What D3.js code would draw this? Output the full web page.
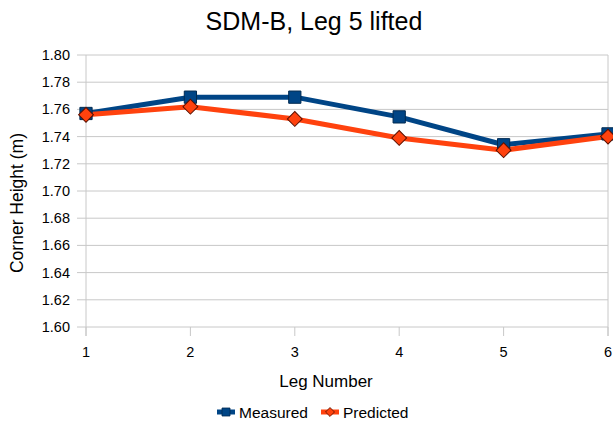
<!DOCTYPE html>
<html><head><meta charset="utf-8">
<script src="https://cdn.jsdelivr.net/npm/d3@7"></script>
<style>body{margin:0;background:#fff}text{font-family:"Liberation Sans",Arial,sans-serif;fill:#000}</style>
</head><body><svg id="c" width="613" height="424"></svg>
<script>
const legs = [1, 2, 3, 4, 5, 6];
const measured = [1.757, 1.769, 1.769, 1.7545, 1.734, 1.742];
const predicted = [1.756, 1.762, 1.753, 1.739, 1.730, 1.740];
const yTicks = [1.60, 1.62, 1.64, 1.66, 1.68, 1.70, 1.72, 1.74, 1.76, 1.78, 1.80];
const title = "SDM-B, Leg 5 lifted";
const xTitle = "Leg Number";
const yTitle = "Corner Height (m)";
const seriesNames = ["Measured", "Predicted"];

const svg = d3.select("#c");
const x = d3.scaleLinear().domain([1, 6]).range([86, 608]);
const y = d3.scaleLinear().domain([1.60, 1.80]).range([327, 55]);
const grid = "#c8c8c8";

svg.append("g").selectAll("line").data(yTicks).join("line")
  .attr("x1", 77).attr("x2", 608)
  .attr("y1", d => y(d)).attr("y2", d => y(d))
  .attr("stroke", grid).attr("stroke-width", 1);
svg.append("line").attr("x1", x(1)).attr("x2", x(1)).attr("y1", y(1.80)).attr("y2", 336).attr("stroke", grid);
svg.append("line").attr("x1", x(6)).attr("x2", x(6)).attr("y1", y(1.80)).attr("y2", 336).attr("stroke", grid);
svg.append("g").selectAll("line").data(legs).join("line")
  .attr("x1", d => x(d)).attr("x2", d => x(d))
  .attr("y1", y(1.60)).attr("y2", 336).attr("stroke", grid);

svg.append("g").selectAll("text").data(yTicks).join("text")
  .attr("x", 70).attr("y", d => y(d) + 5).attr("text-anchor", "end")
  .attr("font-size", 14.5).text(d => d.toFixed(2));
svg.append("g").selectAll("text").data(legs).join("text")
  .attr("x", d => x(d)).attr("y", 357).attr("text-anchor", "middle")
  .attr("font-size", 14.5).text(d => d);

svg.append("text").attr("x", 314).attr("y", 30).attr("text-anchor", "middle").attr("font-size", 25).text(title);
svg.append("text").attr("x", 326).attr("y", 387).attr("text-anchor", "middle").attr("font-size", 17).text(xTitle);
svg.append("text").attr("transform", "translate(23,203) rotate(-90)").attr("text-anchor", "middle").attr("font-size", 17.5).text(yTitle);

const colors = ["#004586", "#ff420e"];
const line = d3.line().x((d, i) => x(legs[i])).y(d => y(d));
[measured, predicted].forEach((s, k) => {
  svg.append("path").attr("d", line(s)).attr("fill", "none")
    .attr("stroke", colors[k]).attr("stroke-width", 5).attr("stroke-linejoin", "round");
});
const sizes = [150, 110];
[measured, predicted].forEach((s, k) => {
  svg.append("g").selectAll("path").data(s).join("path")
    .attr("transform", (d, i) => `translate(${x(legs[i])},${y(d)})` + (k === 1 ? " rotate(45)" : ""))
    .attr("d", d3.symbol().type(d3.symbolSquare).size(sizes[k]))
    .attr("fill", colors[k]).attr("stroke", k === 0 ? "#002a50" : "#5a1000").attr("stroke-width", 1);
});

const lg = [{x: 217, tx: 239}, {x: 321, tx: 343}];
seriesNames.forEach((n, k) => {
  const g = svg.append("g");
  g.append("line").attr("x1", lg[k].x).attr("x2", lg[k].x + 18).attr("y1", 412).attr("y2", 412)
    .attr("stroke", colors[k]).attr("stroke-width", 5);
  g.append("path").attr("transform", `translate(${lg[k].x + 9},412)` + (k === 1 ? " rotate(45)" : ""))
    .attr("d", d3.symbol().type(d3.symbolSquare).size(k === 0 ? 64 : 40))
    .attr("fill", colors[k]).attr("stroke", k === 0 ? "#002a50" : "#5a1000").attr("stroke-width", 0.8);
  g.append("text").attr("x", lg[k].tx).attr("y", 418).attr("font-size", 15.5).text(n);
});
</script></body></html>
